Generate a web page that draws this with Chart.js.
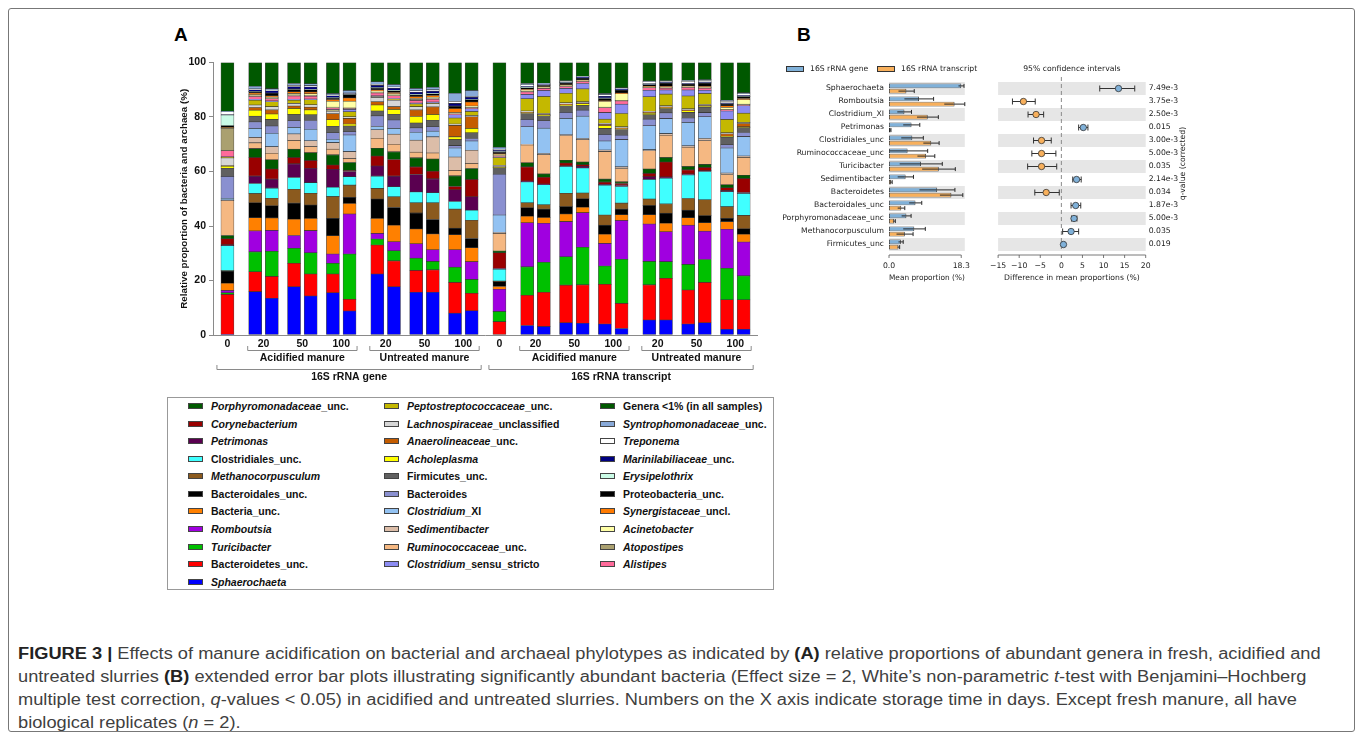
<!DOCTYPE html>
<html>
<head>
<meta charset="utf-8">
<title>Figure 3</title>
<script src="https://cdn.jsdelivr.net/npm/chart.js@4.4.1/dist/chart.umd.min.js"></script>
<style>
  body { margin: 0; width: 1360px; height: 735px; overflow: hidden; background: #fff; position: relative;
         font-family: "Liberation Sans", Arial, sans-serif; }
  .frame { position: absolute; left: 8px; top: 8px; width: 1345px; height: 722px; border: 1px solid #777; border-radius: 3px; }
  canvas { position: absolute; }
  .letter { position: absolute; font-weight: bold; font-size: 19px; color: #000; }
  .legend-box { position: absolute; left: 167px; top: 397px; width: 605px; height: 191px; border: 1px solid #999; }
  .legend-item { position: absolute; white-space: nowrap; font-weight: bold; font-size: 10.5px; color: #111; line-height: 12px; }
  .legend-item .sw { position: absolute; left: 0; top: 3px; width: 13px; height: 4px; border: 1px solid #444; }
  .legend-item span.txt { position: absolute; left: 23px; top: 0; }
  .blegend { position: absolute; font-family: "DejaVu Sans", sans-serif; font-size: 7.7px; color: #222; white-space: nowrap; line-height: 10px; }
  .blegend .sw { display: inline-block; width: 16px; height: 4px; border: 1px solid #333; vertical-align: middle; margin-right: 6px; }
  .caption { position: absolute; left: 18px; top: 642px; font-size: 16px; line-height: 23px; color: #3f3f3f; white-space: nowrap;
             transform: scaleX(1.14); transform-origin: 0 0; }
  .caption b { color: #222; }
</style>
</head>
<body>
<div class="frame"></div>
<div class="letter" style="left:174px;top:24px">A</div>
<div class="letter" style="left:797px;top:24px">B</div>

<canvas id="chartA" width="600" height="365" style="left:170px;top:25px"></canvas>
<canvas id="chartB1" width="200" height="235" style="left:780px;top:55px"></canvas>
<canvas id="chartB2" width="230" height="235" style="left:980px;top:55px"></canvas>

<div class="blegend" style="left:786px;top:64px"><span class="sw" style="background:#80b1d9"></span>16S rRNA gene</div>
<div class="blegend" style="left:877px;top:64px"><span class="sw" style="background:#f8b05c"></span>16S rRNA transcript</div>

<div class="legend-box" id="legendA"></div>

<div class="caption">
<b>FIGURE 3 |</b> Effects of manure acidification on bacterial and archaeal phylotypes as indicated by <b>(A)</b> relative proportions of abundant genera in fresh, acidified and<br>
untreated slurries <b>(B)</b> extended error bar plots illustrating significantly abundant bacteria (Effect size = 2, White’s non-parametric <i>t</i>-test with Benjamini–Hochberg<br>
multiple test correction, <i>q</i>-values &lt; 0.05) in acidified and untreated slurries. Numbers on the X axis indicate storage time in days. Except fresh manure, all have<br>
biological replicates (<i>n</i> = 2).
</div>

<script>
// ---------------- Panel A: samples ----------------
const sampleType = ['gene','gene','gene','gene','gene','gene','gene','gene','gene','gene','gene','gene','gene',
  'transcript','transcript','transcript','transcript','transcript','transcript','transcript','transcript','transcript','transcript','transcript','transcript','transcript'];
const sampleTreatment = ['fresh','acidified','acidified','acidified','acidified','acidified','acidified','untreated','untreated','untreated','untreated','untreated','untreated',
  'fresh','acidified','acidified','acidified','acidified','acidified','acidified','untreated','untreated','untreated','untreated','untreated','untreated'];
const sampleDay = [0,20,20,50,50,100,100,20,20,50,50,100,100, 0,20,20,50,50,100,100,20,20,50,50,100,100];

// relative proportions (%), stacked bottom to top
const sphaerochaeta     = [0.2,15.9,13.5,17.7,14.3,15.5,8.8,22.4,17.7,15.7,15.7,8.0,8.9, 0,3.5,3.1,4.5,4.3,4.0,2.4,5.5,5.5,4.0,4.5,2.1,2.1];
const bacteroidetesUnc  = [14.7,7.3,8.0,8.6,8.1,6.9,4.3,10.6,9.5,8.0,8.2,11.3,6.4, 4.9,11.1,12.6,13.8,14.1,14.6,9.2,12.9,15.3,12.5,14.8,10.8,10.8];
const turicibacter      = [0.6,7.3,9.2,5.5,7.8,3.9,16.6,2.2,3.7,4.5,3.1,5.6,5.1, 3.7,10.4,11.0,10.4,13.8,6.7,16.2,8.6,6.1,9.4,8.4,11.6,8.8];
const romboutsia        = [0.8,7.7,7.7,4.7,8.1,3.4,14.7,2.1,3.3,5.3,4.3,6.4,6.5, 8.2,16.2,14.3,12.9,12.7,8.3,14.2,13.7,11.0,14.4,10.4,14.3,12.4];
const bacteriaUnc       = [2.7,4.8,4.5,6.0,4.5,6.7,3.9,5.5,6.1,5.4,5.8,5.5,5.1, 1.0,2.4,2.1,2.8,2.0,3.4,2.1,3.4,3.1,2.7,3.1,2.8,2.9];
const bacteroidalesUnc  = [4.4,5.5,4.5,5.9,4.9,6.4,2.2,7.1,6.5,5.9,5.3,2.4,3.4, 1.8,3.1,3.1,2.7,3.1,3.3,2.1,3.4,3.7,2.8,2.6,1.2,2.0];
const methanocorpusculum= [0.2,3.4,2.8,5.1,4.3,8.0,4.5,3.9,3.9,3.7,6.1,7.0,6.7, 0.2,1.8,1.6,4.9,2.1,3.7,2.2,2.4,3.4,4.3,5.8,4.3,4.9];
const clostridialesUnc  = [9.2,3.7,3.7,4.3,3.9,3.4,3.1,4.5,3.7,4.0,3.7,2.8,3.7, 4.3,7.7,7.3,9.8,9.2,11.0,6.1,7.2,9.4,8.6,10.4,5.5,8.0];
const petrimonas        = [0.3,2.7,3.3,5.0,5.3,6.6,1.9,3.7,3.9,6.4,5.1,4.3,4.9, 0.3,0.3,0.3,0.3,0.6,0.3,0.5,1.0,0.5,0.4,0.3,0.4,0.4];
const corynebacterium   = [2.2,6.8,3.7,2.3,2.8,1.6,0.4,3.7,6.1,2.8,2.8,1.2,6.4, 5.8,5.2,2.5,1.0,0.6,0.8,0.6,1.2,5.5,1.5,1.2,1.0,5.1];
const porphyromonadaceae= [1.2,3.3,3.4,3.1,2.9,3.7,2.9,2.8,2.8,3.3,4.5,3.9,4.0, 0.6,1.5,1.2,1.0,1.0,1.1,0.6,1.6,1.6,1.2,1.1,1.1,1.2];
const ruminococcaceae   = [12.8,2.1,2.4,3.2,2.2,2.1,1.4,3.7,2.8,2.1,2.2,2.0,1.8, 6.5,6.5,7.1,9.1,8.2,10.1,4.9,6.7,8.2,7.1,8.7,3.8,6.5];
const sedimentibacter   = [0.2,2.0,2.4,2.4,2.2,2.4,2.6,3.1,3.7,4.4,5.9,4.9,4.9, 0.3,0.3,0.4,0.3,0.4,0.6,0.6,0.4,0.6,0.5,0.8,0.5,0.6];
const clostridiumXI     = [0.7,3.3,4.9,2.4,4.2,1.2,6.1,1.2,2.1,2.9,2.1,3.3,3.4, 6.4,6.4,9.3,6.0,8.2,3.3,10.0,8.8,5.5,8.6,8.0,9.2,7.1];
const bacteroides       = [8.0,2.4,2.7,2.4,3.2,2.4,1.2,3.9,3.1,1.6,1.6,0.9,0.9, 15.0,2.7,2.7,2.2,2.2,2.4,1.6,2.4,2.1,1.6,1.5,1.2,1.5];
const firmicutesUnc     = [3.0,2.1,2.4,2.3,2.1,2.4,2.1,1.8,2.1,1.8,2.4,2.2,2.1, 2.4,2.2,1.8,2.4,1.7,2.2,2.1,1.6,1.6,2.1,2.0,2.8,1.8];
const acholeplasma      = [0.7,2.2,2.0,2.2,1.8,2.4,0.7,2.2,1.8,2.4,2.1,1.0,1.6, 0.2,0.2,0.2,0.3,0.7,1.0,0.3,0.6,0.3,0.6,0.3,0.3,0.3];
const anaerolineaceae   = [0.2,1.0,1.5,0.9,1.0,2.2,2.1,1.2,1.0,2.4,2.8,4.2,4.3, 0.1,0.3,0.3,0.3,0.3,0.5,0.3,0.3,0.3,0.3,0.3,0.9,1.2];
const lachnospiraceae   = [2.9,0.9,1.2,1.0,0.9,0.9,0.6,1.6,2.4,1.2,1.2,0.5,0.4, 0.6,0.4,0.4,0.5,0.4,0.4,0.4,0.4,0.4,0.4,0.4,0.4,0.4];
const peptostreptococc  = [0.2,1.8,1.8,1.2,1.8,0.3,1.8,0.3,0.3,1.0,0.3,2.2,1.5, 2.8,4.5,6.2,3.5,4.7,1.5,4.9,5.3,4.3,4.7,4.0,4.9,3.4];
const clostridiumSS     = [0.2,0.3,0.3,0.3,0.3,0.3,0.9,0.3,0.3,0.3,0.3,1.2,1.0, 0.2,1.6,2.2,1.8,2.0,2.4,3.4,2.4,1.5,2.2,1.2,3.1,2.7];
const alistipes         = [2.2,1.0,0.8,1.2,1.0,0.6,0.3,1.0,1.0,1.0,1.0,0.3,0.4, 0.4,0.9,0.8,0.7,0.7,1.8,1.2,0.9,0.7,0.9,0.8,0.3,0.4];
const atopostipes       = [8.3,0.3,0.3,0.4,0.4,0.3,0.2,0.3,0.3,0.3,0.3,0.2,0.2, 0.3,0.3,0.2,0.2,0.2,0.2,0.2,0.2,0.2,0.2,0.2,0.2,0.2];
const acinetobacter     = [0.1,0.4,0.3,0.5,0.5,2.2,2.5,0.4,0.4,0.4,0.4,0.3,0.4, 0.2,0.3,0.2,0.2,0.2,2.1,2.4,0.2,0.2,0.2,0.2,0.8,1.6];
const synergistaceae    = [0.1,0.6,0.5,0.7,0.7,0.6,1.2,0.5,0.5,0.7,0.7,1.5,1.5, 0.3,0.3,0.2,0.2,0.2,0.3,0.3,0.2,0.2,0.2,0.2,0.6,0.5];
const proteobacteriaUnc = [0.7,0.5,0.9,0.8,0.8,0.5,1.2,0.6,0.6,0.6,0.6,0.8,0.8, 0.6,0.6,0.5,0.7,0.6,0.8,1.0,0.5,1.2,0.6,1.2,0.6,0.7];
const erysipelothrix    = [3.9,0.1,0.1,0.2,0.2,0.2,0.1,0.2,0.2,0.2,0.2,0.1,0.1, 0.2,0.2,0.1,0.1,0.1,0.2,0.1,0.1,0.1,0.1,0.1,0.1,0.1];
const marinilabiliaceae = [0.1,0.6,0.8,0.8,0.8,0.7,0.3,0.8,0.8,0.8,0.8,1.0,0.9, 0.5,0.3,0.2,0.3,0.3,0.6,0.3,0.3,0.3,0.2,0.3,0.3,0.3];
const treponema         = [1.1,0.3,0.3,0.5,0.5,0.3,0.2,0.4,0.4,0.5,0.5,0.7,0.2, 0.3,0.6,0.2,0.2,0.2,0.6,0.2,0.8,0.3,0.8,0.6,0.7,0.6];
const syntrophomonad    = [0.2,1.0,0.5,0.7,0.7,0.5,0.9,0.9,0.9,0.9,0.9,3.0,2.2, 0.8,0.5,0.3,0.2,0.1,0.4,0.3,0.2,0.2,0.3,0.3,0.3,0.4];
const generaBelow1      = [17.9,8.7,9.6,7.7,7.8,11.4,10.3,7.1,8.1,9.5,9.1,11.3,10.3, 31.1,7.7,7.6,6.7,5.1,11.4,9.3,6.8,6.7,6.6,6.3,13.9,11.1];

const taxaA = ['Sphaerochaeta','Bacteroidetes_unc.','Turicibacter','Romboutsia','Bacteria_unc.','Bacteroidales_unc.',
  'Methanocorpusculum','Clostridiales_unc.','Petrimonas','Corynebacterium','Porphyromonadaceae_unc.','Ruminococcaceae_unc.',
  'Sedimentibacter','Clostridium_XI','Bacteroides','Firmicutes_unc.','Acholeplasma','Anaerolineaceae_unc.',
  'Lachnospiraceae_unclassified','Peptostreptococcaceae_unc.','Clostridium_sensu_stricto','Alistipes','Atopostipes',
  'Acinetobacter','Synergistaceae_uncl.','Proteobacteria_unc.','Erysipelothrix','Marinilabiliaceae_unc.','Treponema',
  'Syntrophomonadaceae_unc.','Genera <1% (in all samples)'];
const valuesA = [sphaerochaeta,bacteroidetesUnc,turicibacter,romboutsia,bacteriaUnc,bacteroidalesUnc,methanocorpusculum,
  clostridialesUnc,petrimonas,corynebacterium,porphyromonadaceae,ruminococcaceae,sedimentibacter,clostridiumXI,bacteroides,
  firmicutesUnc,acholeplasma,anaerolineaceae,lachnospiraceae,peptostreptococc,clostridiumSS,alistipes,atopostipes,
  acinetobacter,synergistaceae,proteobacteriaUnc,erysipelothrix,marinilabiliaceae,treponema,syntrophomonad,generaBelow1];

const treatmentNames = { acidified: 'Acidified manure', untreated: 'Untreated manure' };
const typeNames = { gene: '16S rRNA gene', transcript: '16S rRNA transcript' };

// legend columns, top to bottom (html with italics)
const legendCols = [
  ['<i>Porphyromonadaceae</i>_unc.','<i>Corynebacterium</i>','<i>Petrimonas</i>','Clostridiales_unc.','<i>Methanocorpusculum</i>',
   'Bacteroidales_unc.','Bacteria_unc.','<i>Romboutsia</i>','<i>Turicibacter</i>','Bacteroidetes_unc.','<i>Sphaerochaeta</i>'],
  ['<i>Peptostreptococcaceae</i>_unc.','<i>Lachnospiraceae</i>_unclassified','<i>Anaerolineaceae</i>_unc.','<i>Acholeplasma</i>',
   'Firmicutes_unc.','Bacteroides','<i>Clostridium</i>_XI','<i>Sedimentibacter</i>','<i>Ruminococcaceae</i>_unc.','<i>Clostridium</i>_sensu_stricto'],
  ['Genera &lt;1% (in all samples)','<i>Syntrophomonadaceae</i>_unc.','<i>Treponema</i>','<i>Marinilabiliaceae</i>_unc.','<i>Erysipelothrix</i>',
   'Proteobacteria_unc.','<i>Synergistaceae</i>_uncl.','<i>Acinetobacter</i>','<i>Atopostipes</i>','<i>Alistipes</i>']
];

// ---------------- Panel B data ----------------
const taxaB = ['Sphaerochaeta','Romboutsia','Clostridium_XI','Petrimonas','Clostridiales_unc','Ruminococcaceae_unc',
  'Turicibacter','Sedimentibacter','Bacteroidetes','Bacteroidales_unc','Porphyromonadaceae_unc','Methanocorpusculum','Firmicutes_unc'];
const geneMean  = [18.3, 7.6, 3.9, 5.7, 5.9, 4.7, 8.1, 4.2, 12.2, 6.7, 4.4, 6.4, 3.0];
const geneSd    = [0.7, 3.7, 1.8, 2.1, 2.8, 5.1, 5.4, 2.0, 4.5, 1.6, 1.2, 2.8, 0.6];
const transMean = [4.4, 16.6, 9.8, 0.4, 10.7, 9.4, 12.6, 0.5, 15.8, 3.1, 1.3, 4.0, 2.4];
const transSd   = [2.0, 2.6, 2.7, 0.1, 2.0, 2.2, 4.2, 0.3, 2.9, 0.9, 0.3, 2.1, 0.3];
const diffMean  = [13.55, -9.0, -6.0, 5.2, -4.7, -4.7, -4.7, 3.6, -3.6, 3.4, 3.0, 2.3, 0.5];
const ciLow     = [9.1, -11.6, -7.9, 4.1, -6.6, -7.0, -8.0, 2.7, -6.3, 2.3, 2.4, 0.3, 0.3];
const ciHigh    = [17.4, -6.2, -4.2, 6.3, -2.4, -1.3, -1.1, 4.7, -0.5, 4.6, 3.7, 4.1, 0.7];
const qValues   = ['7.49e-3','3.75e-3','2.50e-3','0.015','3.00e-3','5.00e-3','0.035','2.14e-3','0.034','1.87e-3','5.00e-3','0.035','0.019'];

// ---------------- styles ----------------
const taxonColor = {
  'Sphaerochaeta':'#0000ff','Bacteroidetes_unc.':'#ff0000','Turicibacter':'#00c000','Romboutsia':'#a000e0',
  'Bacteria_unc.':'#ff8000','Bacteroidales_unc.':'#000000','Methanocorpusculum':'#8b5a1e','Clostridiales_unc.':'#40ffff',
  'Petrimonas':'#5a0050','Corynebacterium':'#990000','Porphyromonadaceae_unc.':'#005a00','Ruminococcaceae_unc.':'#f5b882',
  'Sedimentibacter':'#dcbda8','Clostridium_XI':'#93c2f2','Bacteroides':'#8a90d0','Firmicutes_unc.':'#606060',
  'Acholeplasma':'#ffff00','Anaerolineaceae_unc.':'#c45c00','Lachnospiraceae_unclassified':'#d6d6d6',
  'Peptostreptococcaceae_unc.':'#c4b800','Clostridium_sensu_stricto':'#8c8cf2','Alistipes':'#ff6a9a','Atopostipes':'#aaa070',
  'Acinetobacter':'#ffffa6','Synergistaceae_uncl.':'#ff7a00','Proteobacteria_unc.':'#000000','Erysipelothrix':'#cafbe6',
  'Marinilabiliaceae_unc.':'#000080','Treponema':'#ffffff','Syntrophomonadaceae_unc.':'#88a9d8',
  'Genera <1% (in all samples)':'#005800'
};
const BLUE = '#80b1d9', ORANGE = '#f8b05c';
const FONT_A = "'Liberation Sans', Arial, sans-serif";
const FONT_B = "'DejaVu Sans', sans-serif";

// ---------------- Panel A layout from sample structure ----------------
const barPos = [];
sampleType.forEach((t, i) => {
  if (i === 0) { barPos.push(0); return; }
  const sameGroup = t === sampleType[i - 1] && sampleTreatment[i] === sampleTreatment[i - 1];
  const step = sameGroup ? (sampleDay[i] === sampleDay[i - 1] ? 3 : 4) : 5;
  barPos.push(barPos[i - 1] + step);
});

const tickVals = [], tickLabels = [];
const seen = {};
sampleType.forEach((t, i) => {
  const key = t + sampleTreatment[i] + sampleDay[i];
  if (seen[key] !== undefined) return;
  const idx = sampleType.map((_, j) => j).filter(j => sampleType[j] + sampleTreatment[j] + sampleDay[j] === key);
  seen[key] = idx;
  tickVals.push(idx.reduce((s, j) => s + barPos[j], 0) / idx.length);
  tickLabels.push(String(sampleDay[i]));
});

function groupRanges(keyFn) {
  const out = [];
  sampleType.forEach((t, i) => {
    const k = keyFn(i);
    if (k === null) return;
    const last = out[out.length - 1];
    if (last && last.key === k) last.end = i; else out.push({ key: k, start: i, end: i });
  });
  return out;
}
const treatGroups = groupRanges(i => sampleTreatment[i] === 'fresh' ? null : sampleType[i] + '|' + sampleTreatment[i]);
const typeGroups = groupRanges(i => sampleType[i]);

const BAR_W = 13;

const bracketPlugin = {
  id: 'brackets',
  afterDraw(chart) {
    const { ctx, chartArea } = chart;
    const xs = chart.scales.x;
    const b = chartArea.bottom;
    ctx.save();
    ctx.strokeStyle = '#8a8a8a';
    ctx.lineWidth = 1;
    ctx.fillStyle = '#111';
    ctx.font = 'bold 10.5px ' + FONT_A;
    ctx.textAlign = 'center';
    ctx.textBaseline = 'middle';
    const draw = (x1, x2, y, label, ly) => {
      ctx.beginPath();
      ctx.moveTo(x1, y - 4); ctx.lineTo(x1, y + 0.5); ctx.lineTo(x2, y + 0.5); ctx.lineTo(x2, y - 4);
      ctx.stroke();
      ctx.fillText(label, (x1 + x2) / 2, ly);
    };
    treatGroups.forEach(g => {
      const x1 = xs.getPixelForValue(barPos[g.start]) - BAR_W / 2 - 1;
      const x2 = xs.getPixelForValue(barPos[g.end]) + BAR_W / 2 + 1;
      draw(x1, x2, b + 15, treatmentNames[g.key.split('|')[1]], b + 23);
    });
    typeGroups.forEach(g => {
      const x1 = xs.getPixelForValue(barPos[g.start]) - BAR_W / 2 - 4;
      const x2 = xs.getPixelForValue(barPos[g.end]) + BAR_W / 2 + 3;
      draw(x1, x2, b + 34, typeNames[g.key], b + 42);
    });
    ctx.restore();
  }
};

new Chart(document.getElementById('chartA'), {
  type: 'bar',
  data: {
    datasets: taxaA.map((name, k) => ({
      label: name,
      data: valuesA[k].map((v, i) => ({ x: barPos[i], y: v })),
      backgroundColor: taxonColor[name],
      borderColor: 'rgba(40,40,40,0.85)',
      borderWidth: 0.6,
      borderSkipped: false,
      barThickness: BAR_W
    }))
  },
  options: {
    responsive: false, animation: false, devicePixelRatio: 1,
    layout: { padding: { top: 37.5, right: 13, left: 0, bottom: 0 } },
    plugins: { legend: { display: false }, tooltip: { enabled: false } },
    scales: {
      x: {
        type: 'linear', stacked: true, min: -2.6, max: 95.4, offset: false,
        grid: { display: false, drawTicks: false },
        border: { color: '#8a8a8a' },
        afterBuildTicks: s => { s.ticks = tickVals.map(v => ({ value: v })); },
        ticks: { autoSkip: false, maxRotation: 0, padding: 3, color: '#111',
                 font: { family: FONT_A, size: 10.5, weight: 'bold' },
                 callback: (v, i) => tickLabels[i] },
        afterFit: s => { s.height = 55; }
      },
      y: {
        stacked: true, min: 0, max: 100,
        grid: { drawOnChartArea: false, drawTicks: true, tickLength: 4, color: '#8a8a8a' },
        border: { color: '#8a8a8a' },
        ticks: { stepSize: 20, padding: 3, color: '#111', font: { family: FONT_A, size: 10.5, weight: 'bold' } },
        title: { display: true, text: 'Relative proportion of bacteria and archaea (%)', color: '#111',
                 font: { family: FONT_A, size: 9.8, weight: 'bold' }, padding: { top: 8, bottom: 0 } },
        afterFit: s => { s.width = 43; }
      }
    }
  },
  plugins: [bracketPlugin]
});

// ---------------- Legend for panel A ----------------
const legendEl = document.getElementById('legendA');
const colLeft = [20, 216, 432];
const plainName = html => html.replace(/<\/?i>/g, '').replace('&lt;', '<');
legendCols.forEach((col, c) => {
  col.forEach((html, r) => {
    const d = document.createElement('div');
    d.className = 'legend-item';
    d.style.left = colLeft[c] + 'px';
    d.style.top = (2 + r * 17.57) + 'px';
    d.innerHTML = '<span class="sw" style="background:' + taxonColor[plainName(html)] + '"></span><span class="txt">' + html + '</span>';
    legendEl.appendChild(d);
  });
});

// ---------------- Panel B helpers ----------------
function bandsPlugin(id) {
  return {
    id,
    beforeDatasetsDraw(chart) {
      const { ctx, chartArea } = chart;
      const ys = chart.scales.y;
      const h = ys.getPixelForValue(1) - ys.getPixelForValue(0);
      ctx.save();
      ctx.fillStyle = '#e6e6e6';
      taxaB.forEach((_, i) => {
        if (i % 2) return;
        const yc = ys.getPixelForValue(i);
        ctx.fillRect(chartArea.left, yc - h / 2, chartArea.right - chartArea.left, h);
      });
      ctx.restore();
    }
  };
}

function axisLine(ctx, xs, y, values) {
  ctx.save();
  ctx.strokeStyle = '#555';
  ctx.lineWidth = 0.8;
  ctx.beginPath();
  ctx.moveTo(xs.getPixelForValue(values[0]), y);
  ctx.lineTo(xs.getPixelForValue(values[values.length - 1]), y);
  values.forEach(v => {
    const x = xs.getPixelForValue(v);
    ctx.moveTo(x, y); ctx.lineTo(x, y + 3);
  });
  ctx.stroke();
  ctx.restore();
}

// ---------------- Panel B left: mean proportions ----------------
const errorBarsPlugin = {
  id: 'errorBars',
  afterDatasetsDraw(chart) {
    const { ctx } = chart;
    const xs = chart.scales.x;
    ctx.save();
    ctx.strokeStyle = '#2a2a2a';
    ctx.lineWidth = 1;
    [[geneMean, geneSd], [transMean, transSd]].forEach(([m, sd], d) => {
      chart.getDatasetMeta(d).data.forEach((bar, i) => {
        const x1 = xs.getPixelForValue(Math.max(0, m[i] - sd[i]));
        const x2 = xs.getPixelForValue(m[i] + sd[i]);
        ctx.beginPath();
        ctx.moveTo(x1, bar.y); ctx.lineTo(x2, bar.y);
        ctx.moveTo(x2, bar.y - 2); ctx.lineTo(x2, bar.y + 2);
        ctx.stroke();
      });
    });
    ctx.restore();
  },
  afterDraw(chart) {
    axisLine(chart.ctx, chart.scales.x, chart.chartArea.bottom + 4, [0, 18.3]);
  }
};

new Chart(document.getElementById('chartB1'), {
  type: 'bar',
  data: {
    labels: taxaB,
    datasets: [
      { label: '16S rRNA gene', data: geneMean, backgroundColor: BLUE, borderColor: '#2a2a2a', borderWidth: 0.8,
        borderSkipped: false, categoryPercentage: 0.8, barPercentage: 0.95 },
      { label: '16S rRNA transcript', data: transMean, backgroundColor: ORANGE, borderColor: '#2a2a2a', borderWidth: 0.8,
        borderSkipped: false, categoryPercentage: 0.8, barPercentage: 0.95 }
    ]
  },
  options: {
    indexAxis: 'y',
    responsive: false, animation: false, devicePixelRatio: 1,
    layout: { padding: { top: 27, right: 4.3, left: 0, bottom: 0 } },
    plugins: { legend: { display: false }, tooltip: { enabled: false } },
    scales: {
      x: {
        min: 0, max: 19.2,
        grid: { display: false, drawTicks: false }, border: { display: false },
        afterBuildTicks: s => { s.ticks = [{ value: 0 }, { value: 18.3 }]; },
        ticks: { autoSkip: false, maxRotation: 0, padding: 10, color: '#222', font: { family: FONT_B, size: 7.7 },
                 callback: v => v.toFixed(1) },
        title: { display: true, text: 'Mean proportion (%)', color: '#222', font: { family: FONT_B, size: 7.7 },
                 padding: { top: 0, bottom: 7 } },
        afterFit: s => { s.height = 39; }
      },
      y: {
        grid: { display: false, drawTicks: false }, border: { display: false },
        ticks: { padding: 5, color: '#222', font: { family: FONT_B, size: 7.7 } },
        afterFit: s => { s.width = 109; }
      }
    }
  },
  plugins: [bandsPlugin('bandsB1'), errorBarsPlugin]
});

// ---------------- Panel B right: differences with 95% CI ----------------
const ciPlugin = {
  id: 'ci',
  beforeDatasetsDraw(chart) {
    const { ctx, chartArea } = chart;
    const xs = chart.scales.x, ys = chart.scales.y;
    ctx.save();
    const x0 = xs.getPixelForValue(0);
    ctx.strokeStyle = '#8a8a8a';
    ctx.lineWidth = 1;
    ctx.setLineDash([4, 3]);
    ctx.beginPath(); ctx.moveTo(x0, chartArea.top - 5); ctx.lineTo(x0, chartArea.bottom); ctx.stroke();
    ctx.setLineDash([]);
    ctx.strokeStyle = '#333';
    taxaB.forEach((_, i) => {
      const y = ys.getPixelForValue(i);
      const a = xs.getPixelForValue(ciLow[i]), b = xs.getPixelForValue(ciHigh[i]);
      ctx.beginPath();
      ctx.moveTo(a, y); ctx.lineTo(b, y);
      ctx.moveTo(a, y - 3); ctx.lineTo(a, y + 3);
      ctx.moveTo(b, y - 3); ctx.lineTo(b, y + 3);
      ctx.stroke();
    });
    ctx.restore();
  },
  afterDraw(chart) {
    const { ctx, chartArea } = chart;
    const xs = chart.scales.x, ys = chart.scales.y;
    axisLine(ctx, xs, chartArea.bottom + 4, [-15, -10, -5, 0, 5, 10, 15, 20]);
    ctx.save();
    ctx.fillStyle = '#222';
    ctx.font = '7.7px ' + FONT_B;
    ctx.textBaseline = 'middle';
    ctx.textAlign = 'center';
    ctx.fillText('95% confidence intervals', (chartArea.left + chartArea.right) / 2, 14);
    ctx.textAlign = 'left';
    qValues.forEach((q, i) => ctx.fillText(q, chartArea.right + 3, ys.getPixelForValue(i)));
    ctx.translate(chartArea.right + 37, (chartArea.top + chartArea.bottom) / 2 - 3);
    ctx.rotate(-Math.PI / 2);
    ctx.textAlign = 'center';
    ctx.fillText('q-value (corrected)', 0, 0);
    ctx.restore();
  }
};

new Chart(document.getElementById('chartB2'), {
  type: 'scatter',
  data: {
    datasets: [{
      label: 'Difference in mean proportions',
      data: diffMean.map((d, i) => ({ x: d, y: taxaB[i] })),
      backgroundColor: diffMean.map(d => d > 0 ? BLUE : ORANGE),
      borderColor: '#333', borderWidth: 0.8, pointRadius: 3.2
    }]
  },
  options: {
    responsive: false, animation: false, devicePixelRatio: 1,
    layout: { padding: { top: 27, right: 64.3, left: 13.3, bottom: 0 } },
    plugins: { legend: { display: false }, tooltip: { enabled: false } },
    scales: {
      x: {
        type: 'linear', min: -15, max: 20,
        grid: { display: false, drawTicks: false }, border: { display: false },
        ticks: { stepSize: 5, autoSkip: false, maxRotation: 0, padding: 10, color: '#222',
                 font: { family: FONT_B, size: 7.7 }, callback: v => String(v).replace('-', '\u2212') },
        title: { display: true, text: 'Difference in mean proportions (%)', color: '#222',
                 font: { family: FONT_B, size: 7.7 }, padding: { top: 0, bottom: 7 } },
        afterFit: s => { s.height = 39; }
      },
      y: { type: 'category', labels: taxaB, offset: true, display: false }
    }
  },
  plugins: [bandsPlugin('bandsB2'), ciPlugin]
});
</script>
</body>
</html>
